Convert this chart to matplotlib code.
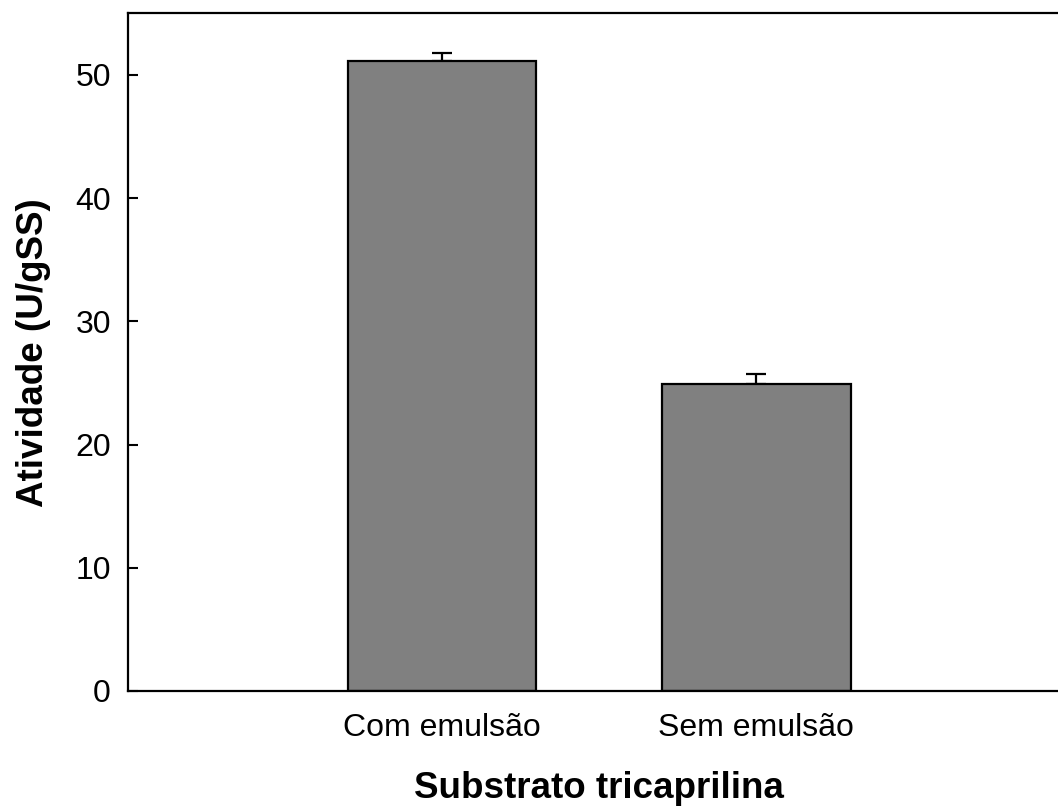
import matplotlib
matplotlib.use("Agg")
import matplotlib.pyplot as plt

categories = ["Com emulsão", "Sem emulsão"]
values = [51.1, 24.9]
errors = [0.7, 0.8]
yticks = [0, 10, 20, 30, 40, 50]

plt.rcParams['font.family'] = ['Liberation Sans', 'DejaVu Sans']

fig = plt.figure(figsize=(10.58, 8.07), dpi=100)
axw = 1070.7 - 127.5
ax = fig.add_axes([127.5/1058, 1-691/807, axw/1058, (691-13.3)/807])

pos = [1, 2]
ax.bar(pos, values, width=0.6, color='#808080', edgecolor='black', linewidth=1.6, zorder=2)
ax.errorbar(pos, values, yerr=[[0]*len(errors), errors], fmt='none', ecolor='black',
            elinewidth=1.6, capsize=7.2, capthick=1.6, zorder=1)

ax.set_xlim(0, 3)
ax.set_ylim(0, 55)
ax.set_xticks(pos)
ax.set_xticklabels(categories, fontsize=23)
ax.set_yticks(yticks)
ax.set_yticklabels([str(t) for t in yticks], fontsize=23)
ax.tick_params(axis='x', length=0, pad=16)
ax.tick_params(axis='y', direction='in', length=7, width=1.5, pad=12)

for s in ['top', 'bottom', 'left']:
    ax.spines[s].set_linewidth(1.6)
ax.spines['right'].set_visible(False)

ax.set_xlabel("Substrato tricaprilina", fontsize=26.5, fontweight='bold', labelpad=20)
ax.set_ylabel("Atividade (U/gSS)", fontsize=26.5, fontweight='bold')
ax.yaxis.set_label_coords(-(127.5 - 51) / axw, 0.5)

fig.savefig("out.png", dpi=100)
